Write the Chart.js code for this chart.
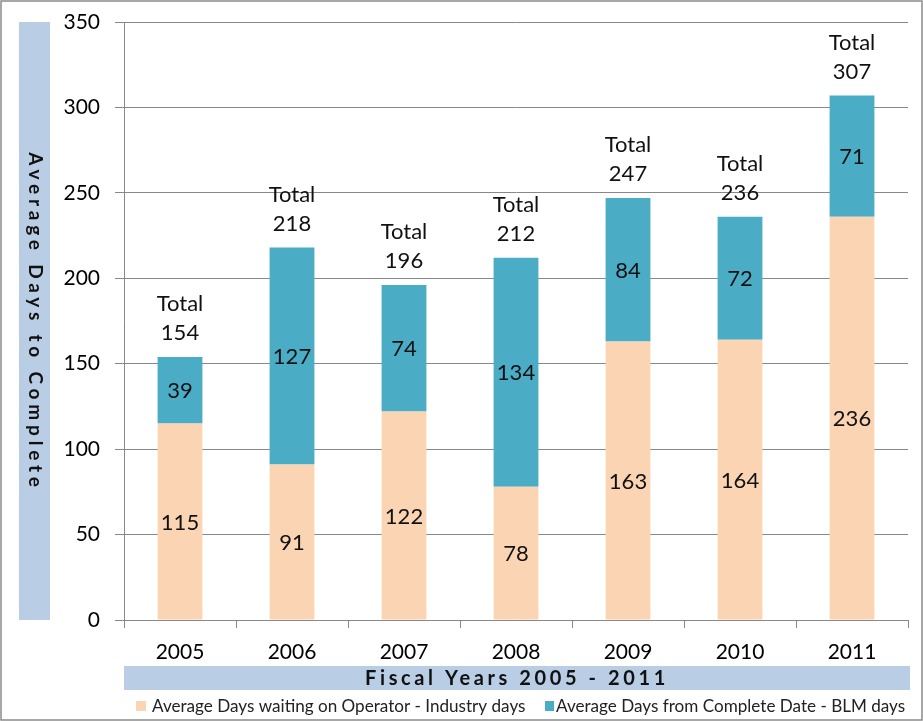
<!DOCTYPE html>
<html>
<head>
<meta charset="utf-8">
<script src="https://cdn.jsdelivr.net/npm/chart.js@4"></script>
<style>
html,body{margin:0;padding:0;background:#fff;}
#wrap{width:923px;height:721px;position:relative;}
</style>
</head>
<body>
<div id="wrap"><canvas id="c" width="923" height="721"></canvas></div>
<script>
const categories = ["2005","2006","2007","2008","2009","2010","2011"];
const industryDays = [115, 91, 122, 78, 163, 164, 236];
const blmDays = [39, 127, 74, 134, 84, 72, 71];
const totals = [154, 218, 196, 212, 247, 236, 307];
const seriesNames = ["Average Days waiting on Operator - Industry days", "Average Days from Complete Date - BLM days"];
const yTitle = "Average Days to Complete";
const xTitle = "Fiscal Years 2005 - 2011";
const totalWord = "Total";

const COL_IND = "#FBD4B4";
const COL_BLM = "#4BACC6";
const COL_BAND = "#B9CDE5";
const FONT = "Lato";

const decor = {
  id: "decor",
  beforeDraw(chart) {
    const ctx = chart.ctx;
    const ca = chart.chartArea;
    ctx.save();
    ctx.fillStyle = "#fff";
    ctx.fillRect(0, 0, chart.width, chart.height);
    ctx.fillStyle = COL_BAND;
    ctx.fillRect(19, 22, 31, 598);
    ctx.fillRect(ca.left, 666, 786, 24);
    ctx.restore();
  },
  afterDraw(chart) {
    const ctx = chart.ctx;
    ctx.save();
    // axis titles
    ctx.fillStyle = "#111";
    ctx.textAlign = "center";
    ctx.textBaseline = "middle";
    ctx.font = "bold 19px " + FONT;
    ctx.letterSpacing = "4.8px";
    ctx.save();
    ctx.translate(35, 322);
    ctx.rotate(Math.PI / 2);
    ctx.fillText(yTitle, 0, 0);
    ctx.restore();
    ctx.font = "bold 20px " + FONT;
    ctx.letterSpacing = "3.6px";
    ctx.fillText(xTitle, 517, 679);
    ctx.letterSpacing = "0px";

    // data labels
    ctx.font = "22px " + FONT;
    ctx.fillStyle = "#111";
    chart.data.datasets.forEach((ds, di) => {
      const meta = chart.getDatasetMeta(di);
      meta.data.forEach((bar, i) => {
        const p = bar.getProps(["x", "y", "base"], true);
        ctx.fillText(String(ds.data[i]), p.x, (p.y + p.base) / 2 + 1);
      });
    });
    const topMeta = chart.getDatasetMeta(1);
    topMeta.data.forEach((bar, i) => {
      const p = bar.getProps(["x", "y"], true);
      ctx.fillText(String(totals[i]), p.x, p.y - 24);
      ctx.fillText(totalWord, p.x, p.y - 53);
    });

    // legend
    ctx.font = "17.1px " + FONT;
    ctx.textAlign = "left";
    const ly = 706;
    ctx.fillStyle = COL_IND;
    ctx.fillRect(136, ly - 5, 10, 10);
    ctx.fillStyle = "#222";
    ctx.fillText(seriesNames[0], 152, ly);
    ctx.fillStyle = COL_BLM;
    ctx.fillRect(545, ly - 5, 9, 10);
    ctx.fillStyle = "#222";
    ctx.fillText(seriesNames[1], 556, ly);

    // frame
    ctx.strokeStyle = "#8a8a8a";
    ctx.lineWidth = 1.5;
    ctx.strokeRect(1, 1, chart.width - 2, chart.height - 2);
    ctx.restore();
  }
};

new Chart(document.getElementById("c"), {
  type: "bar",
  data: {
    labels: categories,
    datasets: [
      { label: seriesNames[0], data: industryDays, backgroundColor: COL_IND, categoryPercentage: 1, barPercentage: 0.4 },
      { label: seriesNames[1], data: blmDays, backgroundColor: COL_BLM, categoryPercentage: 1, barPercentage: 0.4 }
    ]
  },
  options: {
    responsive: false,
    animation: false,
    devicePixelRatio: 1,
    layout: { padding: { top: 22, right: 15, bottom: 61, left: 0 } },
    plugins: { legend: { display: false }, tooltip: { enabled: false } },
    scales: {
      x: {
        stacked: true,
        afterFit(s) { s.height = 40; s.paddingLeft = 0; s.paddingRight = 0; },
        grid: { drawOnChartArea: false, drawTicks: true, tickLength: 8, color: "#888", offset: true },
        border: { color: "#888", width: 1 },
        ticks: { color: "#000", font: { family: FONT, size: 21 }, padding: 12 }
      },
      y: {
        stacked: true,
        min: 0, max: 350,
        afterFit(s) { s.width = 124; s.paddingTop = 0; s.paddingBottom = 0; },
        grid: { color: "#888", drawTicks: true, tickLength: 9, lineWidth: 1 },
        border: { color: "#888", width: 1 },
        ticks: { stepSize: 50, color: "#000", font: { family: FONT, size: 21 }, padding: 15 }
      }
    }
  },
  plugins: [decor]
});
</script>
</body>
</html>
